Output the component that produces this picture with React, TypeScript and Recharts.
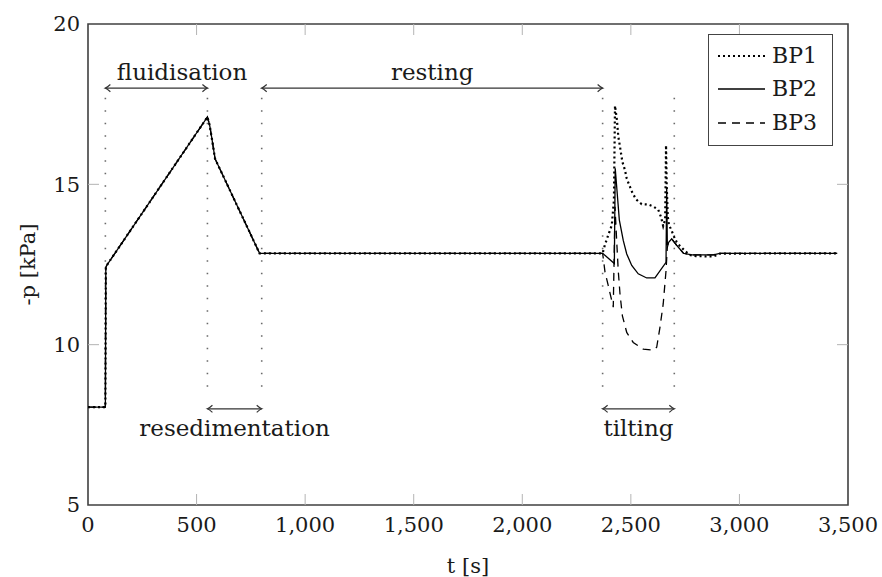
import React from 'react';
import { LineChart, Line, XAxis, YAxis, ReferenceLine, ReferenceDot, ReferenceArea, Legend } from 'recharts';

const FONT = '"DejaVu Serif", "Liberation Serif", serif';
const TEXT = '#1a1a1a';

// shared part of all three sensors (filling, fluidisation, resedimentation, resting)
const commonT = [0, 80, 82, 86, 550, 560, 570, 585, 790, 800, 2370];
const commonP = [8.05, 8.05, 12.4, 12.47, 17.1, 16.85, 16.45, 15.8, 12.85, 12.85, 12.85];

// tilting phase and afterwards
const bp1T = [2380, 2395, 2412, 2422, 2427, 2436, 2442, 2450, 2461, 2473, 2481, 2493, 2507, 2524, 2550, 2580, 2603, 2626, 2639, 2649, 2658, 2662, 2665, 2670, 2675, 2688, 2700, 2711, 2726, 2750, 2770, 2800, 2880, 2910, 3450];
const bp1P = [13.1, 13.4, 13.72, 14.5, 17.45, 17.0, 16.5, 16.17, 15.7, 15.44, 15.18, 14.97, 14.74, 14.53, 14.38, 14.37, 14.31, 14.21, 13.98, 13.7, 13.9, 16.22, 15.0, 14.0, 13.75, 13.55, 13.35, 13.2, 13.08, 12.92, 12.8, 12.76, 12.75, 12.84, 12.85];

const bp2T = [2424, 2428, 2447, 2465, 2481, 2504, 2534, 2573, 2611, 2662, 2665, 2668, 2675, 2688, 2711, 2742, 2780, 2880, 2910, 3450];
const bp2P = [12.53, 15.5, 13.88, 13.25, 12.83, 12.47, 12.21, 12.08, 12.08, 12.57, 14.87, 13.1, 13.2, 13.3, 13.1, 12.85, 12.8, 12.8, 12.85, 12.85];

const bp3T = [2381, 2396, 2419, 2427, 2435, 2442, 2450, 2461, 2481, 2511, 2557, 2603, 2619, 2634, 2649, 2662, 2668, 2675, 2688, 2711, 2742, 2780, 2880, 2910, 3450];
const bp3P = [12.26, 11.84, 11.17, 14.3, 13.2, 12.3, 11.58, 10.9, 10.38, 10.07, 9.86, 9.83, 9.92, 10.54, 11.27, 12.31, 13.04, 13.2, 13.3, 13.1, 12.85, 12.8, 12.8, 12.85, 12.85];

const seriesNames = ['BP1', 'BP2', 'BP3'];
const seriesDash = ['2 3', '', '8 6'];
const seriesWidth = [2.2, 1.3, 1.3];

const xDomain = [0, 3500];
const yDomain = [5, 20];
const xTicks = [0, 500, 1000, 1500, 2000, 2500, 3000, 3500];
const yTicks = [5, 10, 15, 20];

// phases: label, start, end, arrow level, label centre t, label side
const phaseNames = ['fluidisation', 'resedimentation', 'resting', 'tilting'];
const phaseStart = [80, 550, 800, 2370];
const phaseEnd = [550, 800, 2370, 2700];
const phaseLevel = [18, 8, 18, 8];
const phaseLabelT = [433, 675, 1585, 2535];
const phaseSide = ['top', 'bottom', 'top', 'bottom'];
const markerTimes = [80, 550, 800, 2370, 2700];

// plot geometry (pixels)
const W = 882;
const H = 577;
const M = { top: 24, right: 34, bottom: 0, left: 18 };
const Y_W = 70;
const X_H = 72;
const PLOT_W = W - M.left - M.right - Y_W;
const PLOT_H = H - M.top - M.bottom - X_H;
const TICK_PX = 11;
const tickT = ((xDomain[1] - xDomain[0]) * TICK_PX) / PLOT_W;
const tickP = ((yDomain[1] - yDomain[0]) * TICK_PX) / PLOT_H;

const build = (t: number[], p: number[]) => t.map((v, i) => ({ t: v, p: p[i] }));
const commonData = build(commonT, commonP);
const seriesData = [
  [...commonData, ...build(bp1T, bp1P)],
  [...commonData, ...build(bp2T, bp2P)],
  [...commonData, ...build(bp3T, bp3P)],
];

const innerXTicks = xTicks.slice(1, -1);
const innerYTicks = yTicks.slice(1, -1);
const tickSegments: { x: number; y: number }[][] = [
  ...innerXTicks.map((t) => [{ x: t, y: yDomain[0] }, { x: t, y: yDomain[0] + tickP }]),
  ...innerXTicks.map((t) => [{ x: t, y: yDomain[1] }, { x: t, y: yDomain[1] - tickP }]),
  ...innerYTicks.map((p) => [{ x: xDomain[0], y: p }, { x: xDomain[0] + tickT, y: p }]),
  ...innerYTicks.map((p) => [{ x: xDomain[1], y: p }, { x: xDomain[1] - tickT, y: p }]),
];

const ArrowShape = (props: any) => {
  const { x1, y1, x2, y2 } = props;
  const a = Math.min(x1, x2);
  const b = Math.max(x1, x2);
  const h = 5;
  const w = 3.6;
  return (
    <g stroke="#333" strokeWidth={1.2} fill="none">
      <line x1={a} y1={y1} x2={b} y2={y2} />
      <path d={`M${a + h},${y1 - w} Q${a + 1.5},${y1 - 0.5} ${a},${y1} Q${a + 1.5},${y1 + 0.5} ${a + h},${y1 + w}`} />
      <path d={`M${b - h},${y2 - w} Q${b - 1.5},${y2 - 0.5} ${b},${y2} Q${b - 1.5},${y2 + 0.5} ${b - h},${y2 + w}`} />
    </g>
  );
};

const renderLegend = () => (
  <div
    style={{
      width: 125,
      height: 112,
      border: '1.6px solid #444',
      background: '#fff',
      boxSizing: 'border-box',
      paddingTop: 4,
      fontFamily: FONT,
      fontSize: 22,
      color: TEXT,
    }}
  >
    {seriesNames.map((name, i) => (
      <div key={name} style={{ display: 'flex', alignItems: 'center', height: 33.5 }}>
        <svg width={58} height={12} style={{ display: 'block' }}>
          <line
            x1={9}
            x2={56}
            y1={6}
            y2={6}
            stroke="#000"
            strokeWidth={seriesWidth[i]}
            strokeDasharray={seriesDash[i] || undefined}
          />
        </svg>
        <span style={{ marginLeft: 5, lineHeight: 1 }}>{name}</span>
      </div>
    ))}
  </div>
);

const fmt = (v: number) => v.toLocaleString('en-US');

export default function App() {
  const tickStyle = { fontFamily: FONT, fontSize: 21, fill: TEXT };
  return (
    <div style={{ position: 'absolute', left: 0, top: 0, background: '#fff' }}>
      <LineChart width={W} height={H} margin={M}>
        <XAxis
          xAxisId="b"
          dataKey="t"
          type="number"
          domain={xDomain}
          ticks={xTicks}
          tickFormatter={fmt}
          interval={0}
          height={X_H}
          tickSize={0}
          tickMargin={12}
          tick={tickStyle}
          axisLine={false}
          tickLine={false}
          allowDataOverflow
          label={{
            content: (p: any) => {
              const vb = p.viewBox || {};
              return (
                <text
                  x={vb.x + vb.width / 2}
                  y={vb.y + vb.height - 4}
                  textAnchor="middle"
                  fontFamily={FONT}
                  fontSize={21}
                  fill={TEXT}
                >
                  t [s]
                </text>
              );
            },
          }}
        />
        <YAxis
          yAxisId="l"
          type="number"
          domain={yDomain}
          ticks={yTicks}
          interval={0}
          width={Y_W}
          tickSize={0}
          tickMargin={8}
          tick={tickStyle}
          axisLine={false}
          tickLine={false}
          allowDataOverflow
          label={{
            content: (p: any) => {
              const vb = p.viewBox || {};
              const cx = vb.x + 10;
              const cy = vb.y + vb.height / 2;
              return (
                <text
                  x={cx}
                  y={cy}
                  transform={`rotate(-90 ${cx} ${cy})`}
                  textAnchor="middle"
                  dominantBaseline="central"
                  fontFamily={FONT}
                  fontSize={21}
                  fill={TEXT}
                >
                  -p [kPa]
                </text>
              );
            },
          }}
        />

        {tickSegments.map((seg, i) => (
          <ReferenceLine
            key={`tk${i}`}
            xAxisId="b"
            yAxisId="l"
            segment={seg}
            stroke="#b4b4b4"
            strokeWidth={1}
          />
        ))}

        {markerTimes.map((t) => (
          <ReferenceLine
            key={`m${t}`}
            xAxisId="b"
            yAxisId="l"
            segment={[{ x: t, y: 17.7 }, { x: t, y: 8.35 }]}
            stroke="#6a6a6a"
            strokeWidth={1.6}
            strokeDasharray="1.6 10.9"
          />
        ))}
        {phaseNames.map((name, i) => (
          <ReferenceLine
            key={`a${name}`}
            xAxisId="b"
            yAxisId="l"
            segment={[{ x: phaseStart[i], y: phaseLevel[i] }, { x: phaseEnd[i], y: phaseLevel[i] }]}
            shape={ArrowShape}
          />
        ))}
        {phaseNames.map((name, i) => (
          <ReferenceDot
            key={`l${name}`}
            xAxisId="b"
            yAxisId="l"
            x={phaseLabelT[i]}
            y={phaseLevel[i]}
            r={0}
            stroke="none"
            fill="none"
            label={{
              value: name,
              position: phaseSide[i] as any,
              offset: phaseSide[i] === 'top' ? 8 : 11,
              fontFamily: FONT,
              fontSize: 23,
              fill: TEXT,
            }}
          />
        ))}

        {seriesNames.map((name, i) => (
          <Line
            key={name}
            xAxisId="b"
            yAxisId="l"
            name={name}
            data={seriesData[i]}
            dataKey="p"
            type="linear"
            stroke="#000"
            strokeWidth={seriesWidth[i]}
            strokeDasharray={seriesDash[i] || undefined}
            dot={false}
            activeDot={false}
            isAnimationActive={false}
          />
        ))}

        <ReferenceArea
          xAxisId="b"
          yAxisId="l"
          x1={xDomain[0]}
          x2={xDomain[1]}
          y1={yDomain[0]}
          y2={yDomain[1]}
          fill="none"
          fillOpacity={0}
          stroke="#404040"
          strokeWidth={1.6}
        />

        <Legend
          layout="vertical"
          align="center"
          verticalAlign="middle"
          content={renderLegend}
          wrapperStyle={{ position: 'absolute', left: 708, top: 34, width: 125, height: 112 }}
        />
      </LineChart>
    </div>
  );
}
